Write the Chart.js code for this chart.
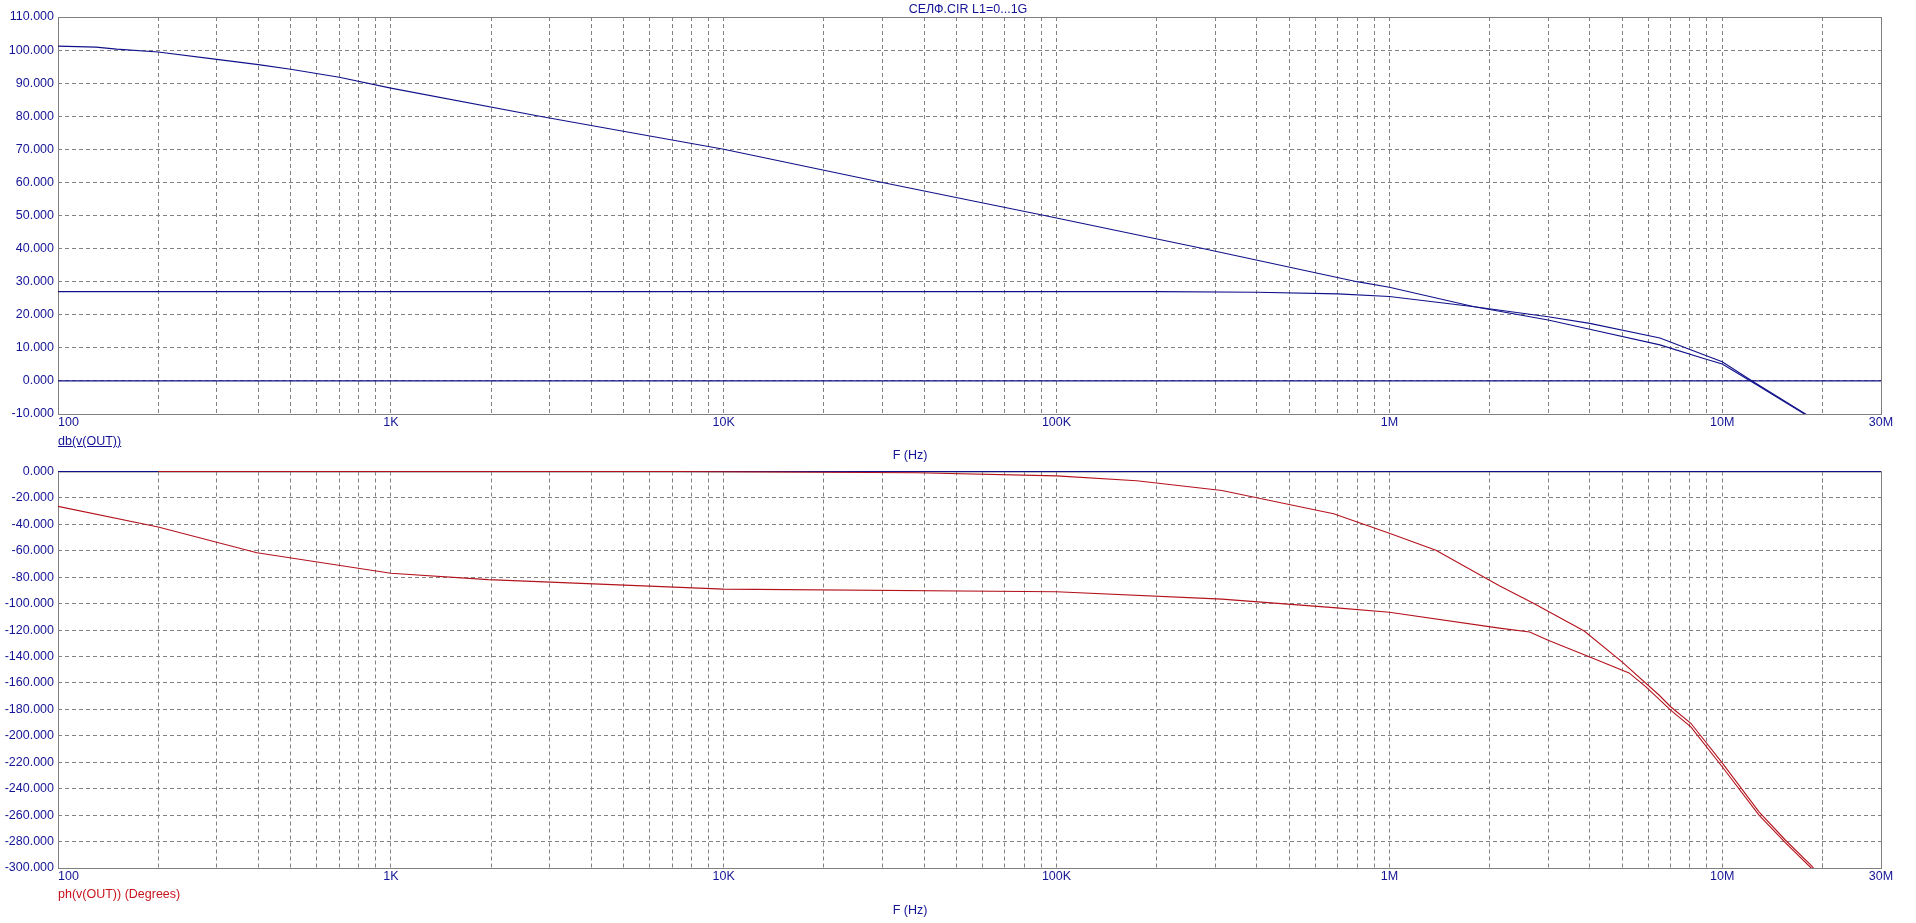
<!DOCTYPE html>
<html>
<head>
<meta charset="utf-8">
<title>СЕЛФ.CIR L1=0...1G</title>
<script src="https://cdn.jsdelivr.net/npm/chart.js@4.4.1/dist/chart.umd.min.js"></script>
<style>
  html, body { margin: 0; padding: 0; background: #fff; }
  body { width: 1916px; height: 923px; position: relative; overflow: hidden; font-family: "Liberation Sans", Arial, sans-serif; }
  canvas { position: absolute; left: 0; }
  #magChart { top: 0; }
  #phChart { top: 460px; }
  .lbl { position: absolute; font-size: 12.5px; line-height: 14px; white-space: nowrap; color: #141496; }
  .ctr { transform: translateX(-50%); }
</style>
</head>
<body>
<canvas id="magChart" width="1916" height="460"></canvas>
<canvas id="phChart" width="1916" height="463"></canvas>
<div class="lbl ctr" style="left:968px; top:2px;">СЕЛФ.CIR L1=0...1G</div>
<div class="lbl" style="left:58px; top:434px; text-decoration:underline;">db(v(OUT))</div>
<div class="lbl ctr" style="left:910px; top:448px;">F (Hz)</div>
<div class="lbl" style="left:58px; top:887px; color:#c8141e;">ph(v(OUT)) (Degrees)</div>
<div class="lbl ctr" style="left:910px; top:903px;">F (Hz)</div>
<script>
// frequency axis labels
const freqTicks = [100, 1e3, 1e4, 1e5, 1e6, 1e7, 3e7];
const freqTickLabels = ['100', '1K', '10K', '100K', '1M', '10M', '30M'];

// upper plot: db(v(OUT)), one trace per L1 step
const magAFreq = [100, 130, 150, 200, 300, 400, 500, 700, 1e3, 2.8e3, 1e4, 3e4, 9.2e4, 2.75e5, 8e5, 1e6, 1.8e6, 3e6, 4e6, 6.5e6, 8.8e6, 1e7, 1.23e7, 1.78e7, 2.2e7];
const magA = [101.2, 100.9, 100.3, 99.4, 97.2, 95.6, 94.2, 91.8, 88.5, 80, 70, 60, 50, 40, 30, 28.3, 22.4, 19.4, 17.4, 13.0, 7.9, 5.8, 0, -10, -16];
const magBFreq = [100, 2e5, 4e5, 7e5, 1e6, 1.8e6, 3e6, 4e6, 6.5e6, 8.8e6, 1e7, 1.23e7, 1.78e7, 2.2e7];
const magB = [27, 27, 26.8, 26.3, 25.5, 22.4, 18.4, 15.6, 10.9, 6.8, 5.1, -0.3, -10.2, -16];
const magZeroFreq = [100, 3e7];
const magZero = [0, 0];

// lower plot: ph(v(OUT)) in degrees
const phAFreq = [200, 7.3e3, 3.8e4, 1e5, 1.74e5, 3.14e5, 6.8e5, 1e6, 1.38e6, 2.14e6, 2.7e6, 3.85e6, 5e6, 6.47e6, 7e6, 8.05e6, 1e7, 1.29e7, 1.55e7, 1.85e7, 2.2e7];
const phA = [0, 0, -1, -3.3, -7, -14.4, -32, -46.7, -59.6, -86.4, -99.5, -120.7, -144, -169.3, -178, -190.5, -220.5, -257.5, -279, -298, -320];
const phBFreq = [100, 200, 396, 1e3, 1.96e3, 1e4, 1e5, 3.14e5, 6.8e5, 1e6, 2.14e6, 2.64e6, 3e6, 4e6, 5.25e6, 5.9e6, 7e6, 8.05e6, 1e7, 1.29e7, 1.55e7, 1.85e7, 2.2e7];
const phB = [-26.4, -42, -61.5, -77, -81.8, -89, -91, -96.6, -103, -106.5, -118.5, -121.4, -127.7, -140.3, -152.4, -163, -180.6, -193.2, -223.4, -260, -281, -300, -322];
const phZeroFreq = [100, 3e7];
const phZero = [0, 0];

const BLUE = '#10108a';
const RED = '#b4121c';
const TEXT_BLUE = '#141496';
const GRID = '#828282';
const FONT = '"Liberation Sans", Arial, sans-serif';

// dashed grid at 1..9 of every decade, up to 30M
const xGrid = [];
for (let d = 100; d <= 1e7; d *= 10) {
  for (let n = 1; n <= 9; n++) xGrid.push(n * d);
}
xGrid.push(2e7, 3e7);

const pts = (fs, vs) => fs.map((f, i) => ({ x: f, y: vs[i] }));

const trace = (fs, vs, color) => ({
  data: pts(fs, vs),
  borderColor: color,
  borderWidth: 1.1,
  pointRadius: 0,
  tension: 0,
  fill: false,
  clip: { left: 0, right: 0, top: 1, bottom: 0 }
});

// plot frame + x labels
const framePlugin = {
  id: 'frame',
  beforeDatasetsDraw(chart) {
    const { ctx, chartArea: a } = chart;
    ctx.save();
    ctx.strokeStyle = '#808080';
    ctx.lineWidth = 1;
    ctx.strokeRect(a.left + 0.5, a.top + 0.5, a.right - a.left, a.bottom - a.top);
    ctx.restore();
  },
  afterDraw(chart) {
    const { ctx, chartArea: a, scales } = chart;
    ctx.save();
    ctx.fillStyle = TEXT_BLUE;
    ctx.font = '12.5px ' + FONT;
    ctx.textBaseline = 'middle';
    freqTicks.forEach((v, i) => {
      ctx.textAlign = i === 0 ? 'left' : 'center';
      ctx.fillText(freqTickLabels[i], scales.x.getPixelForValue(v), a.bottom + 9);
    });
    ctx.restore();
  }
};

function makeChart(id, datasets, yMin, yMax, step, pad, xHeight) {
  return new Chart(document.getElementById(id), {
    type: 'line',
    data: { datasets },
    options: {
      responsive: false,
      animation: false,
      events: [],
      layout: { padding: pad },
      plugins: { legend: { display: false }, tooltip: { enabled: false } },
      scales: {
        x: {
          type: 'logarithmic',
          min: 100,
          max: 3e7,
          ticks: { display: false },
          grid: { color: GRID, drawTicks: false },
          border: { display: false, dash: [4, 3] },
          afterBuildTicks: s => { s.ticks = xGrid.map(v => ({ value: v })); },
          afterFit: s => { s.height = xHeight; }
        },
        y: {
          type: 'linear',
          min: yMin,
          max: yMax,
          ticks: {
            stepSize: step,
            padding: 4,
            color: TEXT_BLUE,
            font: { family: FONT, size: 12.5 },
            callback: v => v.toFixed(3)
          },
          grid: { color: GRID, drawTicks: false },
          border: { display: false, dash: [4, 3] },
          afterFit: s => { s.width = 58; }
        }
      }
    },
    plugins: [framePlugin]
  });
}

makeChart('magChart', [
  trace(magAFreq, magA, BLUE),
  trace(magBFreq, magB, BLUE),
  trace(magZeroFreq, magZero, BLUE)
], -10, 110, 10, { left: 0, right: 35, top: 17, bottom: 0 }, 46);

makeChart('phChart', [
  trace(phAFreq, phA, RED),
  trace(phBFreq, phB, RED),
  trace(phZeroFreq, phZero, BLUE)
], -300, 0, 20, { left: 0, right: 35, top: 11, bottom: 0 }, 55);
</script>
</body>
</html>
